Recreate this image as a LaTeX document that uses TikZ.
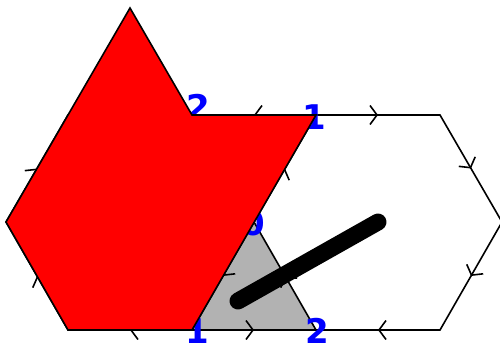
\documentclass[tikz,border=0pt]{standalone}
\usepackage{fontspec}
\setsansfont{DejaVu Sans}
\usetikzlibrary{arrows.meta,decorations.markings}

\begin{document}
\begin{tikzpicture}[x=1pt, y=-1pt,
  edge/.style={line width=1.6pt, line cap=round, postaction={decorate},
    decoration={markings, mark=at position 0.5 with
      {\arrow{Straight Barb[length=7pt, width=19pt]}}}},
  tri/.style={fill=black!30},
  patch/.style={draw, line width=1.6pt, fill=red},
  stick/.style={line width=17pt, line cap=round},
  lbl/.style={text=blue, inner sep=0pt,
    font=\sffamily\bfseries\fontsize{34}{34}\selectfont}]

\useasboundingbox (0,0) rectangle (500,343);

% lattice vertices
\coordinate (L1) at (6,222);
\coordinate (L2) at (68,115);
\coordinate (L3) at (192,115);
\coordinate (C)  at (254,222);
\coordinate (L5) at (192,330);
\coordinate (L6) at (68,330);
\coordinate (R2) at (316,115);
\coordinate (R3) at (440,115);
\coordinate (R4) at (502,222);
\coordinate (R5) at (440,330);
\coordinate (R6) at (316,330);
\coordinate (top) at (130,8);
\coordinate (s1) at (238,301);
\coordinate (s2) at (378,222);

\fill[tri] (C) -- (L5) -- (R6) -- cycle;

\foreach \a/\b in {L6/L1, L1/L2, L2/L3, L3/C, C/L5, L5/L6,
                   R6/C, C/R2, R2/R3, R3/R4, R4/R5, R5/R6,
                   R2/L3, L5/R6}
  \draw[edge] (\a) -- (\b);

\draw[stick] (s1) -- (s2);

\node[lbl] (n2a) at (198,107) {2};
\node[lbl] (n1a) at (314,117) {1};
\node[lbl] (n0)  at (253,223) {0};
\node[lbl] (n1b) at (197,331) {1};
\node[lbl] (n2b) at (317,331) {2};

\draw[patch] (top) -- (L3) -- (R2) -- (L5) -- (L6) -- (L1) -- cycle;
\end{tikzpicture}
\end{document}
